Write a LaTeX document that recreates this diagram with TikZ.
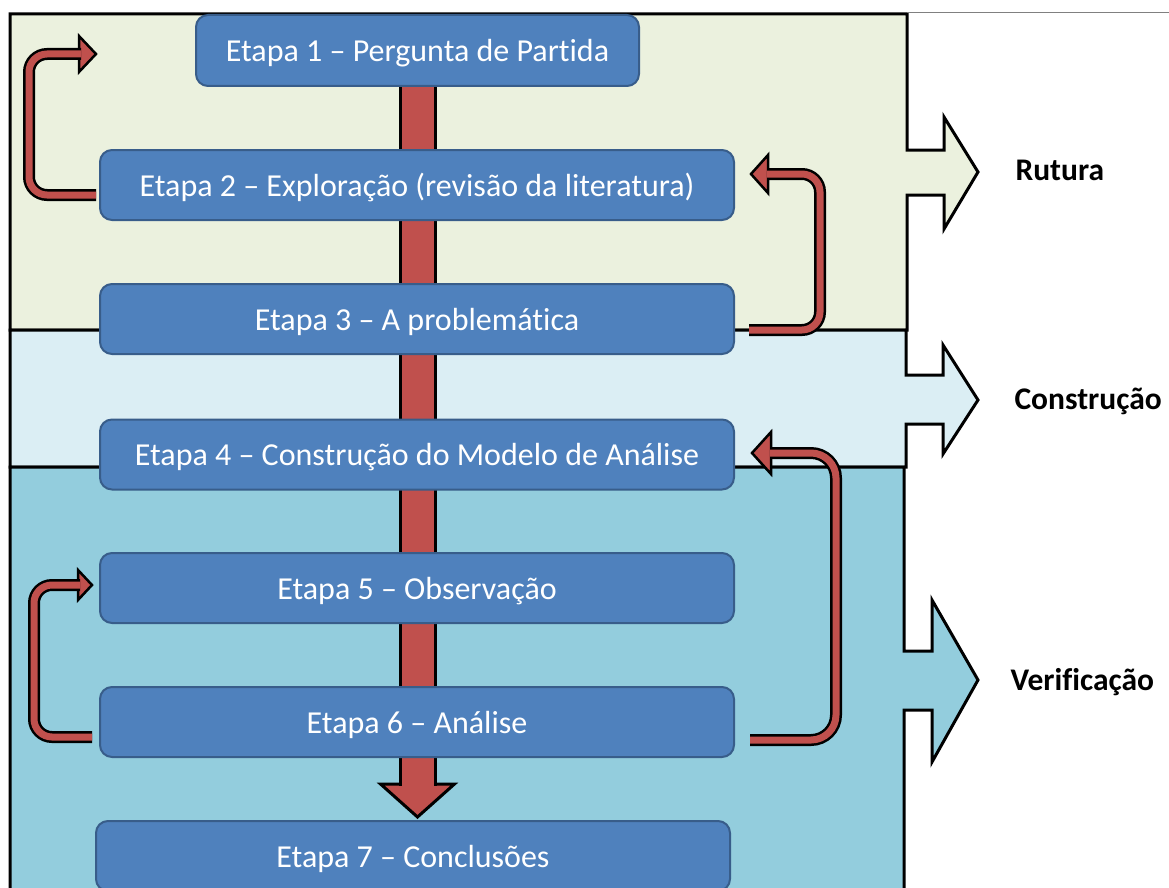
\documentclass[tikz,border=0pt]{standalone}
\usepackage{fontspec}
\setmainfont{Carlito}[Ligatures=NoCommon]

\definecolor{rutura}{HTML}{EBF1DE}
\definecolor{construcao}{HTML}{DBEEF4}
\definecolor{verificacao}{HTML}{93CDDD}
\definecolor{stagefill}{HTML}{4F81BD}
\definecolor{stageline}{HTML}{385D8A}
\definecolor{loopred}{HTML}{C0504D}

\pgfdeclarelayer{back}
\pgfdeclarelayer{mid}
\pgfsetlayers{back,mid,main}

\tikzset{
  stage/.style={draw=stageline, fill=stagefill, line width=2pt, rounded corners=12pt,
    minimum width=634pt, minimum height=70pt, text=white, font=\fontsize{32}{38}\selectfont,
    text height=22pt, text depth=0pt},
  band/.style={draw=black, line width=3pt, line join=miter},
  backarrow/.style={draw=loopred, line width=7pt, rounded corners=#1,
    preaction={draw=black, line width=12pt}},
  backarrow/.default=18pt,
  arrowhead/.style={fill=loopred, draw=black, line width=2.5pt, line join=miter},
  phase/.style={anchor=base west, font=\fontsize{31.5}{38}\selectfont\bfseries}
}

\begin{document}
\begin{tikzpicture}[x=1pt, y=-1pt]
    \useasboundingbox (0,0) rectangle (1169,888);

    % Phases
    \begin{pgfonlayer}{back}
    \draw[band, fill=rutura] (10,14) -- (907,14) -- (907,150) -- (944,150) -- (944,117)
        -- (978,172) -- (944,229) -- (944,195) -- (907,195) -- (907,330) -- (10,330) -- cycle;
    \draw[band, fill=construcao] (10,330) -- (906,330) -- (906,375) -- (943,375) -- (943,345)
        -- (978,400) -- (943,454) -- (943,424) -- (906,424) -- (906,467) -- (10,467) -- cycle;
    \draw[band, fill=verificacao] (10,467) -- (904,467) -- (904,651) -- (932,651) -- (932,600)
        -- (978,680) -- (932,762) -- (932,710) -- (904,710) -- (904,900) -- (10,900) -- cycle;
    \draw[gray, line width=1pt] (907,13) -- (1169,13);
    \end{pgfonlayer}

    \node[phase] (rutura) at (1012,180) {Rutura};
    \node[phase] (construcao) at (1011,409) {Construção};
    \node[phase] (verificacao) at (1007,690) {Verificação};

    % Stages
    \node[stage, minimum width=443pt, minimum height=71pt] (e1) at (417.5,50.5) {Etapa 1 – Pergunta de Partida};
    \node[stage] (e2) at (417,185) {Etapa 2 – Exploração (revisão da literatura)};
    \node[stage] (e3) at (417,319) {Etapa 3 – A problemática};
    \node[stage] (e4) at (417,454.5) {Etapa 4 – Construção do Modelo de Análise};
    \node[stage] (e5) at (417,588) {Etapa 5 – Observação};
    \node[stage] (e6) at (417,722) {Etapa 6 – Análise};
    \node[stage] (e7) at (413,856) {Etapa 7 – Conclusões};

    % Main flow
    \coordinate (t7) at (e1.south |- e7.north);
    \begin{pgfonlayer}{mid}
    \filldraw[arrowhead, line width=3pt, shift={(t7)}] (-37,-36) -- (0,-3) -- (37,-36) -- cycle;
    \draw[draw=loopred, line width=32pt, preaction={draw=black, line width=38pt}]
        (e1.south) -- ([yshift=34pt]t7);
    \end{pgfonlayer}

    % Feedback loops
    \coordinate (ta) at (96,54);
    \filldraw[arrowhead, shift={(ta)}] (-17,-18) -- (0,0) -- (-17,18) -- cycle;
    \draw[backarrow] ([shift={(-3pt,-10pt)}]e2.west) -| (29,54) -- ([xshift=-15pt]ta);

    \coordinate (tb) at (751,174);
    \filldraw[arrowhead, shift={(tb)}] (17,-19) -- (0,0) -- (17,19) -- cycle;
    \draw[backarrow] ([shift={(14pt,-11pt)}]e3.east) -| (820,174) -- ([xshift=16pt]tb);

    \coordinate (tc) at (752,453);
    \filldraw[arrowhead, shift={(tc)}] (19,-21) -- (0,0) -- (19,21) -- cycle;
    \draw[backarrow=25pt] ([shift={(15pt,-18pt)}]e6.east) -| (836,453) -- ([xshift=18pt]tc);

    \coordinate (td) at (92,585);
    \filldraw[arrowhead, shift={(td)}] (-14,-15) -- (0,0) -- (-14,15) -- cycle;
    \draw[backarrow] ([shift={(-7pt,-15pt)}]e6.west) -| (34,585) -- ([xshift=-12pt]td);
\end{tikzpicture}
\end{document}
